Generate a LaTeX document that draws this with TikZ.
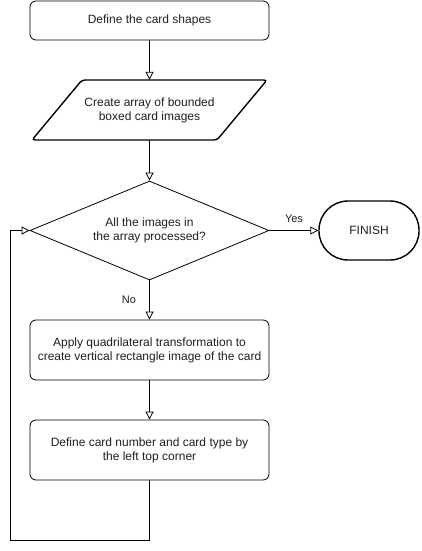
\documentclass[tikz,border=0pt]{standalone}
\usepackage{fontspec}
\setmainfont{Liberation Sans}
\usetikzlibrary{arrows.meta,shapes.geometric}
\begin{document}
\begin{tikzpicture}[x=1pt,y=-1pt,
  txt/.style={font=\fontsize{12}{14}\selectfont, text=black!88, align=center},
  box/.style={txt, draw, rounded corners=6pt, minimum width=239pt, line width=0.8pt, inner sep=0pt},
  arr/.style={-{Triangle[open,length=8pt,width=8pt,fill=white]}, line width=0.8pt},
  lbl/.style={font=\fontsize{11}{13}\selectfont, text=black!88, inner sep=1pt}]
\useasboundingbox (0,0) rectangle (421,551);
\node[box, minimum height=39pt] (b1) at (149.5,20.5) {Define the card shapes};
% parallelogram
\draw[line width=1.4pt, rounded corners=3pt] (82,80) -- (267,80) -- (217,140) -- (32,140) -- cycle;
\node[txt, minimum width=237pt, minimum height=60pt, inner sep=0pt] (p) at (149.5,110) {Create array of bounded\\boxed card images};
\node[txt, draw, shape=diamond, aspect=2.414, minimum width=239pt, minimum height=99pt, inner sep=0pt, line width=0.8pt] (d) at (149.5,230.5) {All the images in\\the array processed?};
\node[txt, draw, rounded corners=29pt, minimum width=100pt, minimum height=59pt, line width=1.4pt] (f) at (369,230.5) {FINISH};
\node[box, minimum height=60pt] (b3) at (149.5,350) {Apply quadrilateral transformation to\\create vertical rectangle image of the card};
\node[box, minimum height=60pt] (b4) at (149.5,450) {Define card number and card type by\\the left top corner};
\draw[arr] (b1) -- (p);
\draw[arr] (p) -- (d);
\draw[arr] (d) -- (b3);
\draw[arr] (b3) -- (b4);
\draw[arr] (d) -- (f);
\node[lbl] (yes) at (294,219) {Yes};
\node[lbl] (no) at (129,300) {No};
\coordinate (c1) at (149.5,540);
\coordinate (c2) at (10,540);
\draw[arr] (b4.south) -- (c1) -- (c2) |- (d.west);
\end{tikzpicture}
\end{document}
